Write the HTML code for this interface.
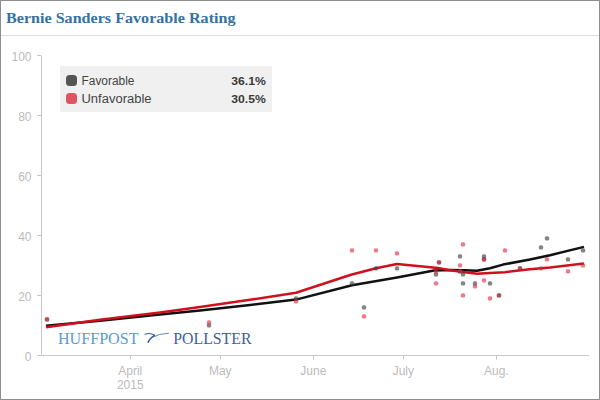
<!DOCTYPE html>
<html><head><meta charset="utf-8">
<style>
html,body{margin:0;padding:0;background:#fff;}
#w{position:relative;width:598px;height:398px;border:1px solid #8e8e8e;overflow:hidden;background:#fff;}
svg{position:absolute;left:-1px;top:-1px;}
.title{font-family:"Liberation Serif",serif;font-weight:bold;font-size:13.6px;fill:#3671a3;}
.ax{font-family:"Liberation Sans",sans-serif;font-size:12px;fill:#bbb;}
.lg{font-family:"Liberation Sans",sans-serif;font-size:12.5px;fill:#444;}
.lgb{font-family:"Liberation Sans",sans-serif;font-size:11.3px;fill:#3a3a3a;font-weight:bold;}
.logo{font-family:"Liberation Serif",serif;font-size:16px;}
</style></head><body><div id="w">
<svg width="600" height="400" viewBox="0 0 600 400">
<text class="title" x="6" y="22.6" textLength="229.5" lengthAdjust="spacingAndGlyphs">Bernie Sanders Favorable Rating</text>
<rect x="1" y="35" width="598" height="1" fill="#ddd"/>
<g stroke="#c8c8c8" stroke-width="1" fill="none">
<line x1="41.5" y1="55.5" x2="41.5" y2="355.5"/>
<line x1="41.5" y1="355.5" x2="589" y2="355.5"/>
</g>
<g stroke="#b7c9dc" stroke-width="1"><line x1="37" y1="355.5" x2="41" y2="355.5"/><line x1="37" y1="295.5" x2="41" y2="295.5"/><line x1="37" y1="235.5" x2="41" y2="235.5"/><line x1="37" y1="175.5" x2="41" y2="175.5"/><line x1="37" y1="115.5" x2="41" y2="115.5"/><line x1="37" y1="55.5" x2="41" y2="55.5"/><line x1="130.5" y1="355.5" x2="130.5" y2="359.5"/><line x1="220.5" y1="355.5" x2="220.5" y2="359.5"/><line x1="313.5" y1="355.5" x2="313.5" y2="359.5"/><line x1="403.5" y1="355.5" x2="403.5" y2="359.5"/><line x1="496.5" y1="355.5" x2="496.5" y2="359.5"/></g>
<g class="ax"><text x="31.5" y="360.8" text-anchor="end">0</text><text x="31.5" y="300.8" text-anchor="end">20</text><text x="31.5" y="240.8" text-anchor="end">40</text><text x="31.5" y="180.8" text-anchor="end">60</text><text x="31.5" y="120.8" text-anchor="end">80</text><text x="31.5" y="60.8" text-anchor="end">100</text>
<text x="130.3" y="375" text-anchor="middle">April</text>
<text x="130.3" y="389" text-anchor="middle">2015</text>
<text x="220.3" y="375" text-anchor="middle">May</text>
<text x="313.3" y="375" text-anchor="middle">June</text>
<text x="403.3" y="375" text-anchor="middle">July</text>
<text x="496.3" y="375" text-anchor="middle">Aug.</text>
</g>
<rect x="60" y="66" width="212" height="46" fill="#f0f0f0"/>
<rect x="66" y="75" width="11" height="11" rx="3.5" fill="#555"/>
<rect x="66" y="93" width="11" height="11" rx="3.5" fill="#dc5560"/>
<text class="lg" x="81.5" y="85" textLength="53" lengthAdjust="spacingAndGlyphs">Favorable</text>
<text class="lg" x="81.5" y="103" textLength="70" lengthAdjust="spacingAndGlyphs">Unfavorable</text>
<text class="lgb" x="231.2" y="85" textLength="34.6" lengthAdjust="spacingAndGlyphs">36.1%</text>
<text class="lgb" x="231.2" y="103" textLength="34.6" lengthAdjust="spacingAndGlyphs">30.5%</text>
<g class="logo">
<text x="58" y="343.5" fill="#5b9bd0" textLength="80.5" lengthAdjust="spacingAndGlyphs">HUFFPOST</text>
<text x="173.3" y="343.5" fill="#3e5f99" textLength="78.2" lengthAdjust="spacingAndGlyphs">POLLSTER</text>
</g>
<g fill="none" stroke="#3e5f99" stroke-linecap="round">
<path d="M145,334.2 Q150,332.3 154.5,335.3" stroke-width="1.1"/>
<path d="M154.5,335.3 Q149.5,338.5 148.2,342.3" stroke-width="1.6"/>
<path d="M152.5,337.2 Q159,333.6 168.5,333.2" stroke-width="0.9" stroke-opacity="0.85"/>
<path d="M155.5,336.5 L160,340" stroke-width="0.5" stroke-opacity="0.4"/>
</g>
<polyline points="46,325.8 100,320.8 160,314.5 200,310.5 250,305 296,299.6 352,285.3 397,277.5 434,270.5 450,270.1 465,270.3 477,270.7 490,268.3 503,264.6 530,259.4 550,255.2 584,246.9" fill="none" stroke="#111" stroke-width="2.5" stroke-linejoin="round"/>
<polyline points="46,327.2 100,319.8 160,312.5 200,307 250,299.8 296,292.7 351,274.7 376,268.2 397,264 438,268 450,270.3 465,272.3 477,273.7 490,273 505,272.2 530,269.25 550,267.5 584,263.5" fill="none" stroke="#d0101e" stroke-width="2.5" stroke-linejoin="round"/>
<g fill="#444" fill-opacity="0.65"><rect x="44.8" y="317.2" width="4.4" height="4.4" rx="1.6"/>
<rect x="206.8" y="323.2" width="4.4" height="4.4" rx="1.6"/>
<rect x="293.8" y="296.2" width="4.4" height="4.4" rx="1.6"/>
<rect x="349.8" y="281.2" width="4.4" height="4.4" rx="1.6"/>
<rect x="361.8" y="305.2" width="4.4" height="4.4" rx="1.6"/>
<rect x="373.8" y="266.2" width="4.4" height="4.4" rx="1.6"/>
<rect x="394.8" y="266.2" width="4.4" height="4.4" rx="1.6"/>
<rect x="436.8" y="260.2" width="4.4" height="4.4" rx="1.6"/>
<rect x="433.8" y="272.2" width="4.4" height="4.4" rx="1.6"/>
<rect x="457.8" y="254.2" width="4.4" height="4.4" rx="1.6"/>
<rect x="457.8" y="269.2" width="4.4" height="4.4" rx="1.6"/>
<rect x="460.8" y="272.2" width="4.4" height="4.4" rx="1.6"/>
<rect x="460.8" y="281.2" width="4.4" height="4.4" rx="1.6"/>
<rect x="472.8" y="281.2" width="4.4" height="4.4" rx="1.6"/>
<rect x="481.8" y="254.2" width="4.4" height="4.4" rx="1.6"/>
<rect x="481.8" y="257.2" width="4.4" height="4.4" rx="1.6"/>
<rect x="487.8" y="281.2" width="4.4" height="4.4" rx="1.6"/>
<rect x="496.8" y="293.2" width="4.4" height="4.4" rx="1.6"/>
<rect x="517.8" y="266.2" width="4.4" height="4.4" rx="1.6"/>
<rect x="538.8" y="245.2" width="4.4" height="4.4" rx="1.6"/>
<rect x="544.8" y="236.2" width="4.4" height="4.4" rx="1.6"/>
<rect x="565.8" y="257.2" width="4.4" height="4.4" rx="1.6"/>
<rect x="580.8" y="248.2" width="4.4" height="4.4" rx="1.6"/></g>
<g fill="#d7283c" fill-opacity="0.6"><rect x="44.8" y="317.2" width="4.4" height="4.4" rx="1.6"/>
<rect x="206.8" y="320.2" width="4.4" height="4.4" rx="1.6"/>
<rect x="293.8" y="299.2" width="4.4" height="4.4" rx="1.6"/>
<rect x="349.8" y="248.2" width="4.4" height="4.4" rx="1.6"/>
<rect x="361.8" y="314.2" width="4.4" height="4.4" rx="1.6"/>
<rect x="373.8" y="248.2" width="4.4" height="4.4" rx="1.6"/>
<rect x="394.8" y="251.2" width="4.4" height="4.4" rx="1.6"/>
<rect x="436.8" y="260.2" width="4.4" height="4.4" rx="1.6"/>
<rect x="433.8" y="269.2" width="4.4" height="4.4" rx="1.6"/>
<rect x="433.8" y="281.2" width="4.4" height="4.4" rx="1.6"/>
<rect x="457.8" y="263.2" width="4.4" height="4.4" rx="1.6"/>
<rect x="457.8" y="269.2" width="4.4" height="4.4" rx="1.6"/>
<rect x="460.8" y="242.2" width="4.4" height="4.4" rx="1.6"/>
<rect x="460.8" y="293.2" width="4.4" height="4.4" rx="1.6"/>
<rect x="472.8" y="284.2" width="4.4" height="4.4" rx="1.6"/>
<rect x="481.8" y="257.2" width="4.4" height="4.4" rx="1.6"/>
<rect x="481.8" y="278.2" width="4.4" height="4.4" rx="1.6"/>
<rect x="487.8" y="296.2" width="4.4" height="4.4" rx="1.6"/>
<rect x="496.8" y="293.2" width="4.4" height="4.4" rx="1.6"/>
<rect x="502.8" y="248.2" width="4.4" height="4.4" rx="1.6"/>
<rect x="517.8" y="266.2" width="4.4" height="4.4" rx="1.6"/>
<rect x="538.8" y="266.2" width="4.4" height="4.4" rx="1.6"/>
<rect x="544.8" y="257.2" width="4.4" height="4.4" rx="1.6"/>
<rect x="565.8" y="269.2" width="4.4" height="4.4" rx="1.6"/>
<rect x="580.8" y="263.2" width="4.4" height="4.4" rx="1.6"/></g>
</svg></div></body></html>
